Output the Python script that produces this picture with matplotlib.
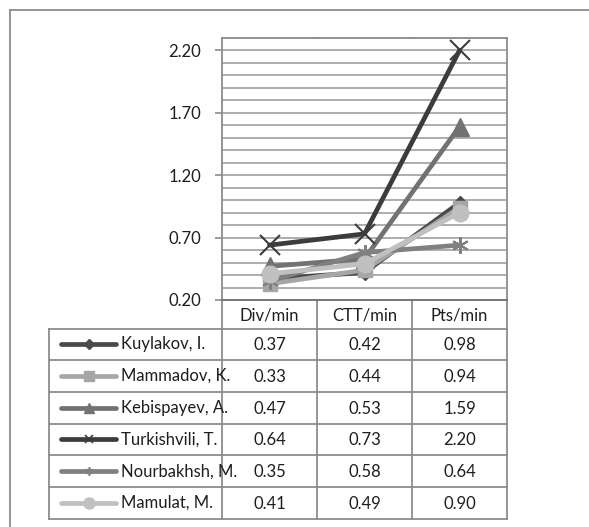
import matplotlib.pyplot as plt
from matplotlib.lines import Line2D

plt.rcParams['font.family'] = ['Lato', 'DejaVu Sans']

categories = ['Div/min', 'CTT/min', 'Pts/min']
players = ['Kuylakov, I.', 'Mammadov, K.', 'Kebispayev, A.',
           'Turkishvili, T.', 'Nourbakhsh, M.', 'Mamulat, M.']
kuylakov = [0.37, 0.42, 0.98]
mammadov = [0.33, 0.44, 0.94]
kebispayev = [0.47, 0.53, 1.59]
turkishvili = [0.64, 0.73, 2.20]
nourbakhsh = [0.35, 0.58, 0.64]
mamulat = [0.41, 0.49, 0.90]
series = [kuylakov, mammadov, kebispayev, turkishvili, nourbakhsh, mamulat]

colors = ['#4a4a4a', '#a6a6a6', '#727272', '#3c3c3c', '#808080', '#c0c0c0']
markers = ['D', 's', '^', 'x', (6, 2, 0), 'o']
msizes = [7, 10, 13, 14, 12, 12]
key_sizes = [5, 7, 7, 6, 6, 8]

W, H = 589, 527
fig = plt.figure(figsize=(W / 100, H / 100), dpi=100)
fs = 12
txt_c = '#1e1e1e'

# pixel layout of the plot area and the data table
px_left, px_right, px_top, px_bot = 222, 507, 38, 300
tab_left = 49
row_h = 31.7
col_edges = [222, 317, 412, 507]
grid_c = '#a0a0a0'
line_c = '#8c8c8c'

# overlay axes in pixel units for the frame and the table
ov = fig.add_axes([0, 0, 1, 1])
ov.set_xlim(0, W)
ov.set_ylim(H, 0)
ov.axis('off')

ax = fig.add_axes([px_left / W, 1 - px_bot / H,
                   (px_right - px_left) / W, (px_bot - px_top) / H])
x = list(range(len(categories)))
for vals, c, m, ms in zip(series, colors, markers, msizes):
    mew = 1.5 if m in ('x', (6, 2, 0)) else 1
    ax.plot(x, vals, color=c, lw=3.4, marker=m, ms=ms, mec=c, mfc=c,
            mew=mew, solid_capstyle='round', zorder=3, clip_on=False)

ax.set_xlim(-0.5, 2.5)
ax.set_ylim(0.2, 2.3)
ax.set_yticks([0.2, 0.7, 1.2, 1.7, 2.2])
ax.set_yticklabels(['%.2f' % v for v in [0.2, 0.7, 1.2, 1.7, 2.2]])
ax.set_yticks([0.2 + 0.1 * i for i in range(22)], minor=True)
ax.yaxis.grid(True, which='both', color=grid_c, lw=1.2)
ax.set_xticks([])
ax.tick_params(axis='y', which='major', length=5, width=1.2, color=line_c,
               pad=10, labelsize=fs, labelcolor=txt_c)
ax.tick_params(axis='y', which='minor', length=0)
for sp in ax.spines.values():
    sp.set_color(line_c)
    sp.set_linewidth(1.3)
ax.spines['bottom'].set_color('#707070')
ax.set_axisbelow(True)

# outer chart border, clipped on the right and bottom
ov.plot([10, W + 5], [9.5, 9.5], color=line_c, lw=1.3)
ov.plot([10, 10], [9.5, H + 5], color=line_c, lw=1.3)

# column dividers through plot area and table
n = len(players)
tab_bot = px_bot + row_h * (n + 0.9)
head_bot = px_bot + row_h * 0.9
for cx in col_edges[1:3]:
    ov.plot([cx, cx], [px_top, tab_bot], color=line_c, lw=1.3, zorder=0)
ov.plot([px_left, px_left], [px_bot, tab_bot], color=line_c, lw=1.3)
ov.plot([px_right, px_right], [px_bot, tab_bot], color=line_c, lw=1.3)
ov.plot([tab_left, tab_left], [head_bot, tab_bot], color=line_c, lw=1.3)

# header row
for i, cat in enumerate(categories):
    cx = (col_edges[i] + col_edges[i + 1]) / 2
    ov.text(cx, (px_bot + head_bot) / 2 + 1, cat, ha='center', va='center',
            fontsize=fs, color=txt_c)

# row lines, legend keys and values
ov.plot([tab_left, px_right], [head_bot, head_bot], color=line_c, lw=1.3)
for r, (name, vals) in enumerate(zip(players, series)):
    top = head_bot + row_h * r
    bot = top + row_h
    cy = (top + bot) / 2
    ov.plot([tab_left, px_right], [bot, bot], color=line_c, lw=1.3)
    key = Line2D([61, 116], [cy, cy], color=colors[r], lw=3.4,
                 solid_capstyle='round')
    ov.add_line(key)
    kmew = 1.2 if markers[r] in ('x', (6, 2, 0)) else 1
    ov.plot([88.5], [cy], marker=markers[r], ms=key_sizes[r], color=colors[r],
            mec=colors[r], mew=kmew)
    ov.text(121, cy, name, ha='left', va='center', fontsize=fs, color=txt_c)
    for i, v in enumerate(vals):
        cx = (col_edges[i] + col_edges[i + 1]) / 2
        ov.text(cx, cy + 1, '%.2f' % v, ha='center', va='center',
                fontsize=fs, color=txt_c)

fig.savefig('out.png', dpi=100)
